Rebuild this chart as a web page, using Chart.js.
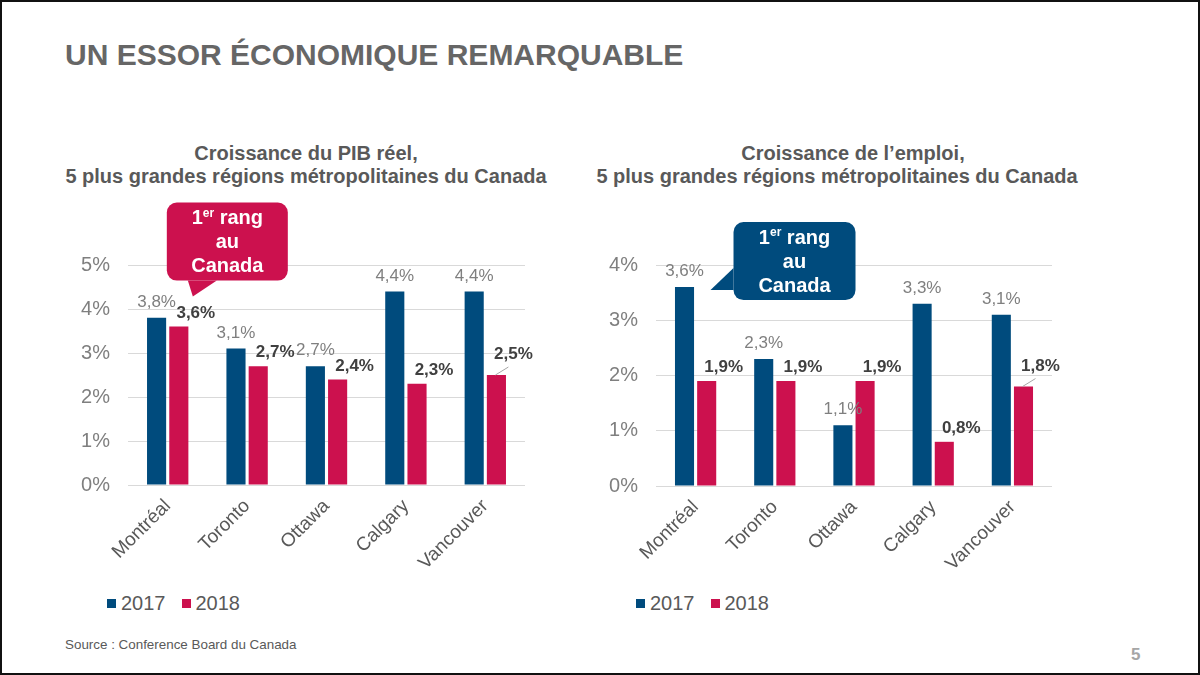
<!DOCTYPE html>
<html><head><meta charset="utf-8">
<script src="https://cdn.jsdelivr.net/npm/chart.js@4.4.1/dist/chart.umd.min.js"></script>
<style>
html,body{margin:0;padding:0;}
body{width:1200px;height:675px;position:relative;overflow:hidden;background:#fff;font-family:"Liberation Sans",Arial,sans-serif;}
#frame{position:absolute;left:0;top:0;width:1196px;height:671px;border:2px solid #111;}
.abs{position:absolute;white-space:nowrap;}
#title{left:65px;top:38px;font-size:30px;font-weight:bold;color:#666;}
.sub{font-size:20px;font-weight:bold;color:#595959;text-align:center;width:600px;line-height:23px;}
.legend{position:absolute;font-size:20px;color:#595959;display:flex;align-items:center;}
.legend span.box{display:inline-block;width:9px;height:9px;margin-right:5px;}
.legend span.item{display:inline-flex;align-items:center;margin-right:16px;}
#source{left:65px;top:637px;font-size:13.4px;color:#595959;}
#page{left:1131px;top:645px;font-size:17px;color:#a6a6a6;font-weight:bold;}
canvas{position:absolute;}
</style></head>
<body>
<div id="frame"></div>
<div id="title" class="abs">UN ESSOR ÉCONOMIQUE REMARQUABLE</div>
<div class="abs sub" style="left:6px;top:142px;">Croissance du PIB réel,</div>
<div class="abs sub" style="left:6px;top:165px;">5 plus grandes régions métropolitaines du Canada</div>
<div class="abs sub" style="left:553px;top:142px;">Croissance de l’emploi,</div>
<div class="abs sub" style="left:537px;top:165px;">5 plus grandes régions métropolitaines du Canada</div>
<div id="wrapL" style="position:absolute;left:60px;top:190px;width:480px;height:400px;"><canvas id="cL"></canvas></div>
<div id="wrapR" style="position:absolute;left:595px;top:190px;width:480px;height:400px;"><canvas id="cR"></canvas></div>
<div id="legL" class="legend" style="left:107px;top:592px;"></div>
<div id="legR" class="legend" style="left:636px;top:592px;"></div>
<div id="source" class="abs">Source : Conference Board du Canada</div>
<div id="page" class="abs">5</div>
<script>
// ---- Data ----
const categories = ['Montréal', 'Toronto', 'Ottawa', 'Calgary', 'Vancouver'];
const seriesLabels = ['2017', '2018'];
const pib2017 = [3.8, 3.1, 2.7, 4.4, 4.4];
const pib2018 = [3.6, 2.7, 2.4, 2.3, 2.5];
const emploi2017 = [3.6, 2.3, 1.1, 3.3, 3.1];
const emploi2018 = [1.9, 1.9, 1.9, 0.8, 1.8];
const pibTicks = [0, 1, 2, 3, 4, 5];
const emploiTicks = [0, 1, 2, 3, 4];
const calloutLines = ['1|er| rang', 'au', 'Canada'];

// ---- Styles ----
const BLUE = '#004B7D';
const RED = '#CC114E';
const FONT = '"Liberation Sans", Arial, sans-serif';
const colors = [BLUE, RED];

function fmt(v){ return v.toFixed(1).replace('.', ',') + '%'; }

const labelsPlugin = {
  id: 'valueLabels',
  afterDatasetsDraw(chart) {
    const ctx = chart.ctx;
    ctx.save();
    chart.data.datasets.forEach((ds, di) => {
      const meta = chart.getDatasetMeta(di);
      meta.data.forEach((el, i) => {
        const v = ds.data[i];
        ctx.textAlign = 'center';
        ctx.textBaseline = 'bottom';
        if (di === 0) {
          ctx.font = '17px ' + FONT;
          ctx.fillStyle = '#7f7f7f';
          ctx.fillText(fmt(v), el.x, el.y - 7);
        } else {
          ctx.font = 'bold 17px ' + FONT;
          ctx.fillStyle = '#404040';
          const last = i === ds.data.length - 1;
          const dy = last ? 12 : 5;
          ctx.fillText(fmt(v), el.x + 17, el.y - dy);
          if (last) {
            ctx.strokeStyle = '#a6a6a6';
            ctx.lineWidth = 1;
            ctx.beginPath();
            ctx.moveTo(el.x - 1, el.y);
            ctx.lineTo(el.x + 12, el.y - 8);
            ctx.stroke();
          }
        }
      });
    });
    ctx.restore();
  }
};

function roundRectPath(ctx, x, y, w, h, r) {
  ctx.moveTo(x + r, y);
  ctx.lineTo(x + w - r, y);
  ctx.arcTo(x + w, y, x + w, y + r, r);
  ctx.lineTo(x + w, y + h - r);
  ctx.arcTo(x + w, y + h, x + w - r, y + h, r);
  ctx.lineTo(x + r, y + h);
  ctx.arcTo(x, y + h, x, y + h - r, r);
  ctx.lineTo(x, y + r);
  ctx.arcTo(x, y, x + r, y, r);
  ctx.closePath();
}

const calloutPlugin = {
  id: 'callout',
  afterDraw(chart, args, opts) {
    if (!opts || !opts.show) return;
    const el = chart.getDatasetMeta(opts.dataset).data[opts.index];
    const ctx = chart.ctx;
    const bx = el.x + opts.dx, by = el.y + opts.dy, bw = opts.w, bh = opts.h;
    ctx.save();
    ctx.fillStyle = opts.color;
    ctx.beginPath();
    roundRectPath(ctx, bx, by, bw, bh, 10);
    ctx.fill();
    ctx.beginPath();
    const p = opts.pointer;
    ctx.moveTo(el.x + p[0][0], el.y + p[0][1]);
    ctx.lineTo(el.x + p[1][0], el.y + p[1][1]);
    ctx.lineTo(el.x + p[2][0], el.y + p[2][1]);
    ctx.closePath();
    ctx.fill();
    ctx.fillStyle = '#fff';
    ctx.textBaseline = 'middle';
    const cx = bx + bw / 2;
    const big = 'bold 20px ' + FONT, small = 'bold 12px ' + FONT;
    calloutLines.forEach((line, li) => {
      const y = by + 16 + li * 24;
      const parts = line.split('|');
      if (parts.length === 3) {
        ctx.font = big;
        const w0 = ctx.measureText(parts[0]).width;
        const w2 = ctx.measureText(parts[2]).width;
        ctx.font = small;
        const w1 = ctx.measureText(parts[1]).width;
        let x = cx - (w0 + w1 + w2) / 2;
        ctx.textAlign = 'left';
        ctx.font = big;
        ctx.fillText(parts[0], x, y);
        x += w0;
        ctx.font = small;
        ctx.fillText(parts[1], x, y - 5);
        x += w1;
        ctx.font = big;
        ctx.fillText(parts[2], x, y);
      } else {
        ctx.font = big;
        ctx.textAlign = 'center';
        ctx.fillText(line, cx, y);
      }
    });
    ctx.restore();
  }
};

function makeChart(id, d1, d2, ticks, yWidth, padRight, xHeight, callout) {
  const maxV = ticks[ticks.length - 1];
  return new Chart(document.getElementById(id), {
    type: 'bar',
    data: {
      labels: categories,
      datasets: [
        { label: seriesLabels[0], data: d1, backgroundColor: colors[0], categoryPercentage: 0.56, barPercentage: 0.86 },
        { label: seriesLabels[1], data: d2, backgroundColor: colors[1], categoryPercentage: 0.56, barPercentage: 0.86 }
      ]
    },
    options: {
      responsive: true,
      maintainAspectRatio: false,
      animation: false,
      events: [],
      layout: { padding: { top: 75, right: padRight, left: 0, bottom: 0 } },
      plugins: {
        legend: { display: false },
        tooltip: { enabled: false },
        callout: callout
      },
      scales: {
        x: {
          grid: { display: false },
          border: { display: false },
          ticks: {
            maxRotation: 45, minRotation: 45,
            color: '#595959',
            font: { family: FONT, size: 19 },
            padding: 2
          },
          afterFit(s) { s.height = xHeight; }
        },
        y: {
          min: 0, max: maxV,
          afterBuildTicks(s) { s.ticks = ticks.map(v => ({ value: v })); },
          grid: { color: '#d9d9d9', lineWidth: 1, drawTicks: false },
          border: { display: false },
          ticks: {
            color: '#7f7f7f',
            font: { family: FONT, size: 20 },
            padding: 18,
            callback: v => v + '%'
          },
          afterFit(s) { s.width = yWidth; }
        }
      }
    },
    plugins: [labelsPlugin, calloutPlugin]
  });
}

makeChart('cL', pib2017, pib2018, pibTicks, 68, 15, 105, {
  show: true, dataset: 1, index: 0, color: RED,
  dx: -12, dy: -124, w: 121, h: 78,
  pointer: [[9, -46], [14, -30], [38, -46]]
});
makeChart('cR', emploi2017, emploi2018, emploiTicks, 61, 23, 104, {
  show: true, dataset: 0, index: 0, color: BLUE,
  dx: 49, dy: -65, w: 122, h: 78,
  pointer: [[49, -19], [26, 3], [49, 3]]
});

function buildLegend(id) {
  const el = document.getElementById(id);
  seriesLabels.forEach((lab, i) => {
    const it = document.createElement('span');
    it.className = 'item';
    it.innerHTML = '<span class="box" style="background:' + colors[i] + '"></span>' + lab;
    el.appendChild(it);
  });
}
buildLegend('legL');
buildLegend('legR');
</script>
</body></html>
